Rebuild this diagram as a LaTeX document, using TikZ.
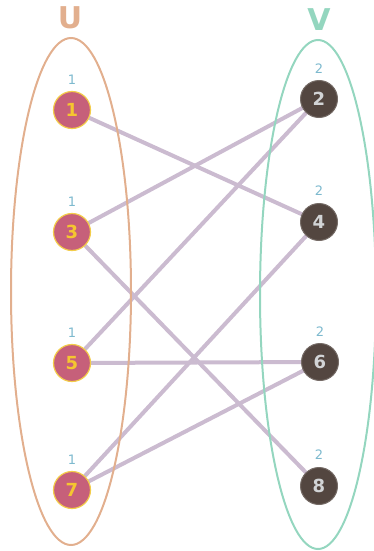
\documentclass[tikz,border=0pt]{standalone}
\usepackage{fontspec}
\setmainfont{DejaVu Sans}
\usetikzlibrary{backgrounds,shapes.geometric}
\definecolor{uorange}{HTML}{E2AF8E}
\definecolor{vgreen}{HTML}{94D6BF}
\definecolor{ufill}{HTML}{C6607A}
\definecolor{uborder}{HTML}{F3CD4A}
\definecolor{utext}{HTML}{F5C630}
\definecolor{vfill}{HTML}{534640}
\definecolor{vtext}{HTML}{D2D4D6}
\definecolor{edgecol}{HTML}{CBBBD0}
\definecolor{degcol}{HTML}{7DB9CE}
\begin{document}
\begin{tikzpicture}[x=1pt,y=-1pt,
  unode/.style={circle,fill=ufill,draw=uborder,line width=1.2pt,minimum size=37pt,inner sep=0pt,text=utext,font=\fontsize{18}{18}\selectfont\bfseries},
  vnode/.style={circle,fill=vfill,draw=vfill!80!white,line width=1pt,minimum size=37pt,inner sep=0pt,text=vtext,font=\fontsize{18}{18}\selectfont\bfseries},
  deg/.style={text=degcol,font=\fontsize{13}{13}\selectfont,inner sep=0pt},
  title/.style={font=\fontsize{30}{30}\selectfont\bfseries,inner sep=0pt},
  edgeline/.style={draw=edgecol,line width=4pt},
  setline/.style={line width=2pt}]
\useasboundingbox (0,0) rectangle (373,551);
% sets
\node[draw=uorange,setline,ellipse,minimum width=120pt,minimum height=507pt,inner sep=0pt] (U) at (71,291.5) {};
\node[draw=vgreen,setline,ellipse,minimum width=116pt,minimum height=509pt,inner sep=0pt] (V) at (318,294.5) {};
\node[title,text=uorange] (tU) at (70,18) {U};
\node[title,text=vgreen] (tV) at (319,20) {V};
% vertices
\node[unode] (n1) at (72,110) {1};
\node[unode] (n3) at (72,232) {3};
\node[unode] (n5) at (72,363) {5};
\node[unode] (n7) at (72,490) {7};
\node[vnode] (n2) at (319,99) {2};
\node[vnode] (n4) at (319,222) {4};
\node[vnode] (n6) at (320,362) {6};
\node[vnode] (n8) at (319,486) {8};
% degree labels
\node[deg] (d1) at (72,80) {1};
\node[deg] (d3) at (72,202) {1};
\node[deg] (d5) at (72,333) {1};
\node[deg] (d7) at (72,460) {1};
\node[deg] (d2) at (319,69) {2};
\node[deg] (d4) at (319,191) {2};
\node[deg] (d6) at (320,332) {2};
\node[deg] (d8) at (319,455) {2};
% edges
\begin{scope}[on background layer]
\draw[edgeline] (n1.center) -- (n4.center);
\draw[edgeline] (n3.center) -- (n2.center);
\draw[edgeline] (n3.center) -- (n8.center);
\draw[edgeline] (n5.center) -- (n2.center);
\draw[edgeline] (n5.center) -- (n6.center);
\draw[edgeline] (n7.center) -- (n4.center);
\draw[edgeline] (n7.center) -- (n6.center);
\end{scope}
\end{tikzpicture}
\end{document}
